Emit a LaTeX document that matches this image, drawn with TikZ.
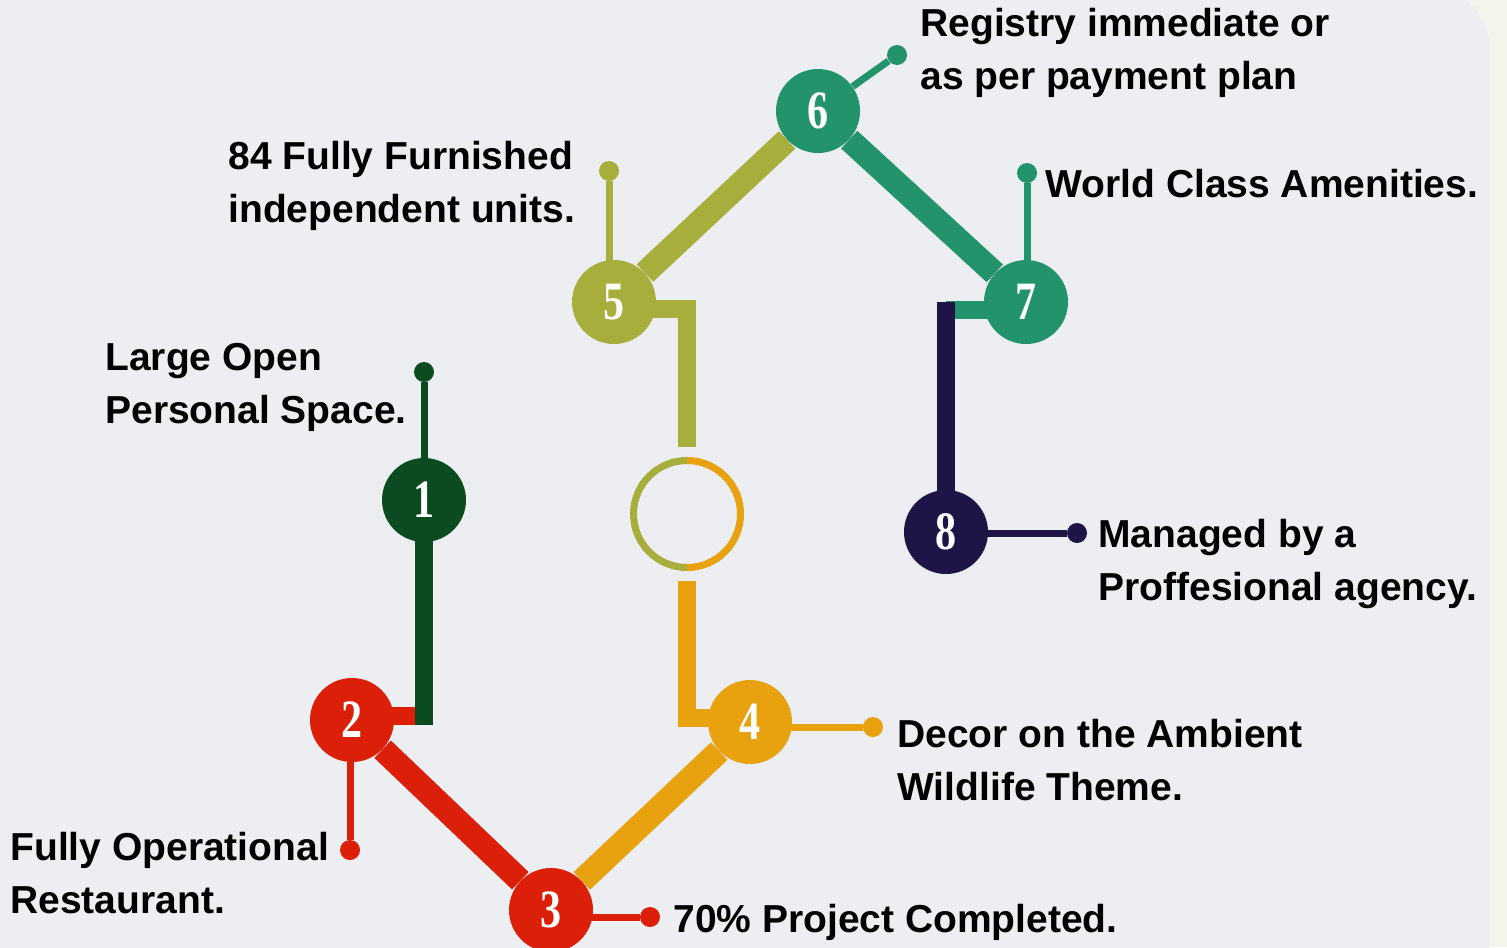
\documentclass[tikz,border=0pt]{standalone}
\usepackage{fontspec}
\setmainfont{Liberation Sans}
\newfontfamily\numfont[FakeStretch=0.78]{Liberation Serif}
\usepackage{xcolor}
\usetikzlibrary{positioning}

\definecolor{outerbg}{HTML}{F4F4EC}
\definecolor{paperbg}{HTML}{ECEEF1}
\definecolor{forest}{HTML}{0C4A1F}
\definecolor{scarlet}{HTML}{DC1F08}
\definecolor{amber}{HTML}{E9A20F}
\definecolor{olivine}{HTML}{A8AE3B}
\definecolor{jade}{HTML}{22936A}
\definecolor{inkblue}{HTML}{1E1446}

\pgfdeclarelayer{paper}
\pgfdeclarelayer{links}
\pgfsetlayers{paper,links,main}

\tikzset{
    station/.style={circle, fill=#1, minimum size=42pt, inner sep=0pt, text=white,
        font=\numfont\bfseries\fontsize{27}{27}\selectfont},
    knob/.style={circle, fill=#1, minimum size=10pt, inner sep=0pt},
    bar/.style={line width=9pt},
    diag/.style={line width=12pt},
    stem/.style={line width=3.5pt},
    info/.style={anchor=base west, align=left, inner sep=0pt,
        font=\bfseries\fontsize{19.5}{26.5}\selectfont},
}

\begin{document}
\begin{tikzpicture}[x=0.5pt, y=-0.5pt]
    \useasboundingbox (0,0) rectangle (1507,947);
    \begin{pgfonlayer}{paper}
        \fill[outerbg] (0,0) rectangle (1507,947);
        \fill[paperbg, rounded corners=30pt] (-60,-12) rectangle (1490,1010);
    \end{pgfonlayer}

    % stations
    \node[station=forest] (n1) at (424,500) {1};
    \node[station=scarlet] (n2) at (352,720) {2};
    \node[station=scarlet] (n3) at (551,910) {3};
    \node[station=amber] (n4) at (750,722) {4};
    \node[station=olivine] (n5) at (614,302) {5};
    \node[station=jade] (n6) at (818,111) {6};
    \node[station=jade] (n7) at (1026,302) {7};
    \node[station=inkblue] (n8) at (946,532) {8};

    % open ring in the middle
    \node[circle, minimum size=57pt, inner sep=0pt, outer sep=5pt] (ring) at (687,514) {};
    \draw[olivine, line width=3.5pt] (ring.center) ++(0,53.5) arc[start angle=90, end angle=270, radius=53.5];
    \draw[amber, line width=3.5pt] (ring.center) ++(0,53.5) arc[start angle=90, end angle=-90, radius=53.5];

    % end knobs
    \node[knob=forest] (d1) at (424,372) {};
    \node[knob=scarlet] (d2) at (350,850) {};
    \node[knob=scarlet] (d3) at (650,917) {};
    \node[knob=amber] (d4) at (873,727) {};
    \node[knob=olivine] (d5) at (609,171) {};
    \node[knob=jade] (d6) at (897,55) {};
    \node[knob=jade] (d7) at (1027,173) {};
    \node[knob=inkblue] (d8) at (1077,533) {};

    % texts (anchored on the last line)
    \node[info] (t1) at (105,423) {Large Open\\Personal Space.};
    \node[info] (t2) at (10,913) {Fully Operational\\Restaurant.};
    \node[info] (t3) at (673,932) {70\% Project Completed.};
    \node[info] (t4) at (897,800) {Decor on the Ambient\\Wildlife Theme.};
    \node[info] (t5) at (228,222) {84 Fully Furnished\\independent units.};
    \node[info] (t6) at (920,90) {Registry immediate or\\as per payment plan};
    \node[info] (t7) at (1045,197) {World Class Amenities.};
    \node[info] (t8) at (1098,600) {Managed by a\\Proffesional agency.};

    \begin{pgfonlayer}{links}
        % path
        \draw[bar, scarlet] ([yshift=2pt]n2.center) -- ([yshift=2pt]n1 |- n2);
        \draw[bar, forest] (n1.center) -- ([yshift=-2.5pt]n1 |- n2);
        \draw[diag, scarlet] (n2) -- (n3);
        \draw[diag, amber] (n3) -- (n4);
        \draw[bar, amber] ([yshift=2pt]n4.center) -| (ring.south);
        \draw[bar, olivine] ([yshift=-3.5pt]n5.center) -| (ring.north);
        \draw[diag, olivine] (n5) -- (n6);
        \draw[diag, jade] (n6) -- (n7);
        \draw[bar, jade] ([yshift=-4pt]n7.center) -- ([yshift=-4pt]n8 |- n7);
        \draw[bar, inkblue] (n8.center) -- (n8 |- n7);
        % stems
        \draw[stem, forest] (d1 |- n1) -- (d1);
        \draw[stem, scarlet] (d2 |- n2) -- (d2);
        \draw[stem, scarlet] (d3 -| n3) -- (d3);
        \draw[stem, amber] (d4 -| n4) -- (d4);
        \draw[stem, olivine] (d5 |- n5) -- (d5);
        \draw[stem, jade] (n6) -- (d6);
        \draw[stem, jade] (d7 |- n7) -- (d7);
        \draw[stem, inkblue] (d8 -| n8) -- (d8);
    \end{pgfonlayer}
\end{tikzpicture}
\end{document}
